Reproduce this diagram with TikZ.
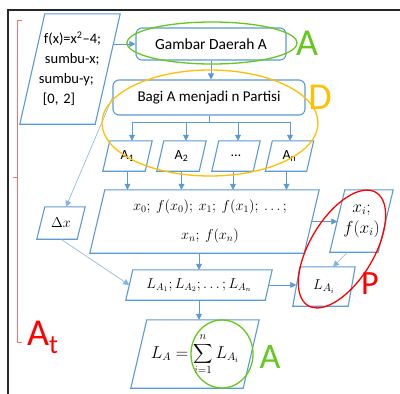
\documentclass[tikz,border=0pt]{standalone}
\usepackage{fontspec}
\setmainfont{Carlito}
\usetikzlibrary{calc,arrows.meta}
\definecolor{bl}{RGB}{91,155,213}
\definecolor{gr}{RGB}{100,200,30}
\definecolor{og}{RGB}{255,192,0}
\definecolor{rd}{RGB}{255,0,0}
\definecolor{rdl}{RGB}{255,110,110}
\newcommand\pgram[2]{\draw[boxline] ($(#1.north west)+(#2,0)$) -- (#1.north east) -- ($(#1.south east)-(#2,0)$) -- (#1.south west) -- cycle;}
\newcommand\bigsumop{\mathop{\vcenter{\hbox{\scalebox{1.35}{$\displaystyle\sum$}}}}\limits}
\begin{document}
\begin{tikzpicture}[x=1pt,y=-1pt,
  boxline/.style={draw=bl,line width=1.1pt,line join=miter},
  pbox/.style={inner sep=0pt,font=\fontsize{14}{20}\selectfont},
  rbox/.style={draw=bl,line width=1.1pt,rounded corners=6pt,inner sep=0pt,font=\fontsize{15.5}{20}\selectfont},
  arr/.style={draw=bl,line width=0.8pt,-{Triangle[length=6pt,width=6pt]}},
  conn/.style={draw=bl,line width=0.8pt},
  lite/.style={draw=bl!75,line width=0.6pt,-{Triangle[length=6pt,width=6pt]}},
  big/.style={inner sep=0pt,font=\fontsize{38}{40}\selectfont}]
\useasboundingbox (0,0) rectangle (400,394);
\fill[white] (0,0) rectangle (400,394);
% frame
\draw[black!85,line width=1.4pt] (400,10) -- (8,10) -- (8,394);
% red brace
\draw[rdl,line width=0.8pt] (22,20) -- (17,20) -- (17,342) -- (22,342);
\draw[rdl,line width=0.8pt] (17,177) -- (13,177);
\node[big,text=rd,anchor=base west] (at) at (27,345) {A\textsubscript{t}};
% nodes
\node[pbox,minimum width=100pt,minimum height=110pt,text width=80pt,align=left,font=\fontsize{14.5}{20}\selectfont] (inp) at (70,69)
  {\hspace*{14pt}f(x)=x\textsuperscript{2}–4;\\ \hspace*{15pt}sumbu-x;\\ \hspace*{9pt}sumbu-y;\\ \hspace*{13pt}{[0, 2]}};
\node[rbox,minimum width=150pt,minimum height=32pt] (gam) at (211,44) {Gambar Daerah A};
\node[rbox,minimum width=192pt,minimum height=35pt,font=\fontsize{15}{20}\selectfont] (bagi) at (209,97.5) {Bagi A menjadi n Partisi};
\node[pbox,minimum width=49pt,minimum height=30pt] (a1) at (127.5,156) {A\textsubscript{1}};
\node[pbox,minimum width=49pt,minimum height=30pt] (a2) at (181.5,156) {A\textsubscript{2}};
\node[pbox,minimum width=48pt,minimum height=30pt] (a3) at (236,156) {…};
\node[pbox,minimum width=48pt,minimum height=30pt] (an) at (289.5,156) {A\textsubscript{n}};
\node[pbox,minimum width=229pt,minimum height=63pt,align=center,font=\fontsize{14}{29}\selectfont] (xs) at (204.5,221.5)
  {\hspace*{11pt}$x_0;\ f(x_0);\ x_1;\ f(x_1);\ \ldots;$\\ \hspace*{11pt}$x_n;\ f(x_n)$};
\node[pbox,minimum width=48pt,minimum height=32pt,font=\fontsize{14}{16}\selectfont] (dx) at (61,223) {$\Delta x$};
\node[pbox,minimum width=63pt,minimum height=62pt,align=center,font=\fontsize{16}{21}\selectfont] (xi) at (361.5,221) {$x_i;$\\ $f(x_i)$};
\node[pbox,minimum width=146pt,minimum height=30pt,font=\fontsize{14}{16}\selectfont] (ll) at (199,285) {$L_{A_1};L_{A_2};\ldots;L_{A_n}$};
\node[pbox,minimum width=62pt,minimum height=39pt,font=\fontsize{15}{16}\selectfont] (lai) at (324,286.5) {$L_{A_i}$};
\node[pbox,minimum width=128pt,minimum height=68pt,font=\fontsize{16}{18}\selectfont] (la) at (195,354) {$\displaystyle L_A=\bigsumop_{i=1}^{\raisebox{2pt}{$\scriptstyle n$}}L_{A_i}$};
% outlines
\pgram{inp}{25}
\pgram{a1}{7}\pgram{a2}{7}\pgram{a3}{7}\pgram{an}{7}
\pgram{xs}{15}
\pgram{dx}{8}
\pgram{xi}{15}
\pgram{ll}{7}
\pgram{lai}{7}
\pgram{la}{16}
% connectors
\draw[arr] ($(gam.west)+(-22,0)$) -- (gam.west);
\draw[arr] (gam.south) -- (gam.south |- bagi.north);
\coordinate (b1) at (132,122);
\coordinate (b2) at (186,122);
\coordinate (b3) at (238,122);
\coordinate (b4) at (290,122);
\draw[conn] (bagi.south) -- (bagi.south |- b1);
\draw[conn] (b1) -- (b4);
\draw[arr] (b1) -- (b1 |- a1.north);
\draw[arr] (b2) -- (b2 |- a2.north);
\draw[arr] (b3) -- (b3 |- a3.north);
\draw[arr] (b4) -- (b4 |- an.north);
\draw[arr] (a1.south) -- (a1.south |- xs.north);
\draw[arr] (a2.south) -- (a2.south |- xs.north);
\draw[arr] ($(a3.south)+(-3,0)$) -- ($(a3.south |- xs.north)+(-3,0)$);
\draw[arr] ($(an.south)+(-3,0)$) -- ($(an.south |- xs.north)+(-3,0)$);
\draw[lite] (bagi.west) -- ($(dx.north)+(5,0)$);
\draw[lite] (dx.south) -- ($(ll.west)+(3.5,0)$);
\draw[arr] (ll.north |- xs.south) -- (ll.north);
\draw[arr] ($(xs.east)+(-8,0)$) -- ($(xs.east -| xi.west)+(7.5,0)$);
\draw[arr] ($(ll.east)+(-3.5,0)$) -- ($(ll.east -| lai.west)+(3.5,0)$);
\draw[lite] ($(xi.south)+(-14,0)$) -- ($(lai.north)+(9,0)$);
\draw[arr] (ll.south) -- (ll.south |- la.north);
% highlights
\draw[gr,line width=1.3pt] (212,43) ellipse (85 and 21);
\node[big,text=gr] (ga) at (307,43) {A};
\draw[og,line width=1.3pt] (210,123) ellipse (108 and 53);
\node[big,text=og] (od) at (320,97) {D};
\draw[rd,line width=1.3pt,rotate around={59:(342,249)}] (342,249) ellipse (66 and 32);
\node[big,text=rd,font=\fontsize{34}{36}\selectfont] (rp) at (370,284) {P};
\draw[gr,line width=1.3pt] (222,354) ellipse (31 and 34);
\node[big,text=gr,font=\fontsize{36}{38}\selectfont] (ga2) at (270,357) {A};
\end{tikzpicture}
\end{document}
